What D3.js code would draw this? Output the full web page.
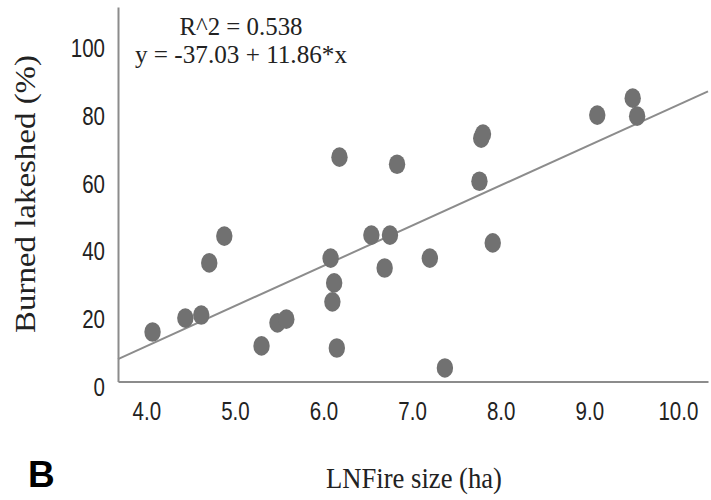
<!DOCTYPE html>
<html>
<head>
<meta charset="utf-8">
<script src="https://cdn.jsdelivr.net/npm/d3@7"></script>
<style>
  body { margin: 0; background: #fff; }
  svg { display: block; }
  .tick text { font-family: "Liberation Sans Narrow", "Arial Narrow", "Liberation Sans", sans-serif; font-size: 25px; fill: #222; }
</style>
</head>
<body>
<div id="chart"></div>
<script>
const w = 711
const h = 500

// LN fire size (ha) and burned lakeshed (%)
const fireSize = [4.07, 4.44, 4.62, 4.71, 4.88, 5.30, 5.48, 5.58, 6.08, 6.12, 6.10, 6.15, 6.18,
                  6.54, 6.69, 6.75, 6.83, 7.20, 7.37, 7.76, 7.78, 7.80, 7.91, 9.09, 9.49, 9.54]
const burned = [14.6, 18.7, 19.6, 35.0, 42.9, 10.5, 17.3, 18.4, 36.4, 29.1, 23.5, 9.9, 66.2,
                43.2, 33.5, 43.2, 64.1, 36.4, 4.0, 59.1, 71.8, 73.0, 40.9, 78.6, 83.6, 78.3]
const xTicks = [4, 5, 6, 7, 8, 9, 10]
const yTicks = [0, 20, 40, 60, 80, 100]
const intercept = -37.03
const slope = 11.86
const rSquared = 0.538

const dataset = fireSize.map((x, i) => [x, burned[i]])

const svg = d3.select('#chart')
    .append('svg')
    .attr('width', w)
    .attr('height', h)

const xScale = d3.scaleLinear()
    .domain([3.68, 10.34])
    .range([118, 708])

const yScale = d3.scaleLinear()
    .domain([0, 110.5])
    .range([381.5, 7])

const xAxis = d3.axisBottom(xScale)
    .tickValues(xTicks)
    .tickSize(0)
    .tickFormat(d3.format('.1f'))

const yAxis = d3.axisLeft(yScale)
    .tickValues(yTicks)
    .tickSize(0)
    .tickPadding(13)
    .tickFormat(d3.format('d'))

const gx = svg.append('g')
    .attr('transform', 'translate(0, 381.5)')
    .call(xAxis)
gx.selectAll('text').attr('y', 38).attr('dy', 0)

const gy = svg.append('g')
    .attr('transform', 'translate(118, 0)')
    .call(yAxis)
gy.selectAll('text').attr('dy', 14)

// squeeze the tick labels to a narrow face
svg.selectAll('.tick text').each(function () {
    const len = this.getComputedTextLength()
    d3.select(this)
        .attr('textLength', len * 0.82)
        .attr('lengthAdjust', 'spacingAndGlyphs')
})

svg.selectAll('.domain')
    .attr('stroke', '#8c8c8c')
    .attr('stroke-width', 2)

// fit line
const line = d3.line()
    .x(d => xScale(d))
    .y(d => yScale(intercept + slope * d))

svg.append('path')
    .datum(xScale.domain())
    .attr('d', line)
    .attr('fill', 'none')
    .attr('stroke', '#8c8c8c')
    .attr('stroke-width', 2)

svg.selectAll('ellipse')
    .data(dataset)
    .enter()
    .append('ellipse')
    .attr('cx', d => xScale(d[0]))
    .attr('cy', d => yScale(d[1]))
    .attr('rx', 8.2)
    .attr('ry', 9.8)
    .attr('fill', '#717171')

// annotation
const note = svg.append('g')
    .attr('font-family', '"Liberation Serif", serif')
    .attr('font-size', 25)
    .attr('fill', '#222')
    .attr('text-anchor', 'middle')

note.append('text')
    .attr('x', 241)
    .attr('y', 35)
    .attr('textLength', 123)
    .attr('lengthAdjust', 'spacingAndGlyphs')
    .text('R^2 = ' + rSquared.toFixed(3))

note.append('text')
    .attr('x', 241)
    .attr('y', 63)
    .attr('textLength', 212)
    .attr('lengthAdjust', 'spacingAndGlyphs')
    .text('y = ' + intercept.toFixed(2) + ' + ' + slope.toFixed(2) + '*x')

// axis titles
svg.append('text')
    .attr('transform', 'translate(35, 194) rotate(-90)')
    .attr('text-anchor', 'middle')
    .attr('font-family', '"Liberation Serif", serif')
    .attr('font-size', 30)
    .attr('textLength', 278)
    .attr('lengthAdjust', 'spacingAndGlyphs')
    .attr('fill', '#222')
    .text('Burned lakeshed (%)')

svg.append('text')
    .attr('x', 414)
    .attr('y', 488)
    .attr('text-anchor', 'middle')
    .attr('font-family', '"Liberation Serif", serif')
    .attr('font-size', 30)
    .attr('textLength', 176)
    .attr('lengthAdjust', 'spacingAndGlyphs')
    .attr('fill', '#222')
    .text('LNFire size (ha)')

svg.append('text')
    .attr('x', 28)
    .attr('y', 487)
    .attr('font-family', '"Liberation Sans", Arial, sans-serif')
    .attr('font-weight', 'bold')
    .attr('font-size', 37)
    .attr('fill', '#000')
    .text('B')
</script>
</body>
</html>
